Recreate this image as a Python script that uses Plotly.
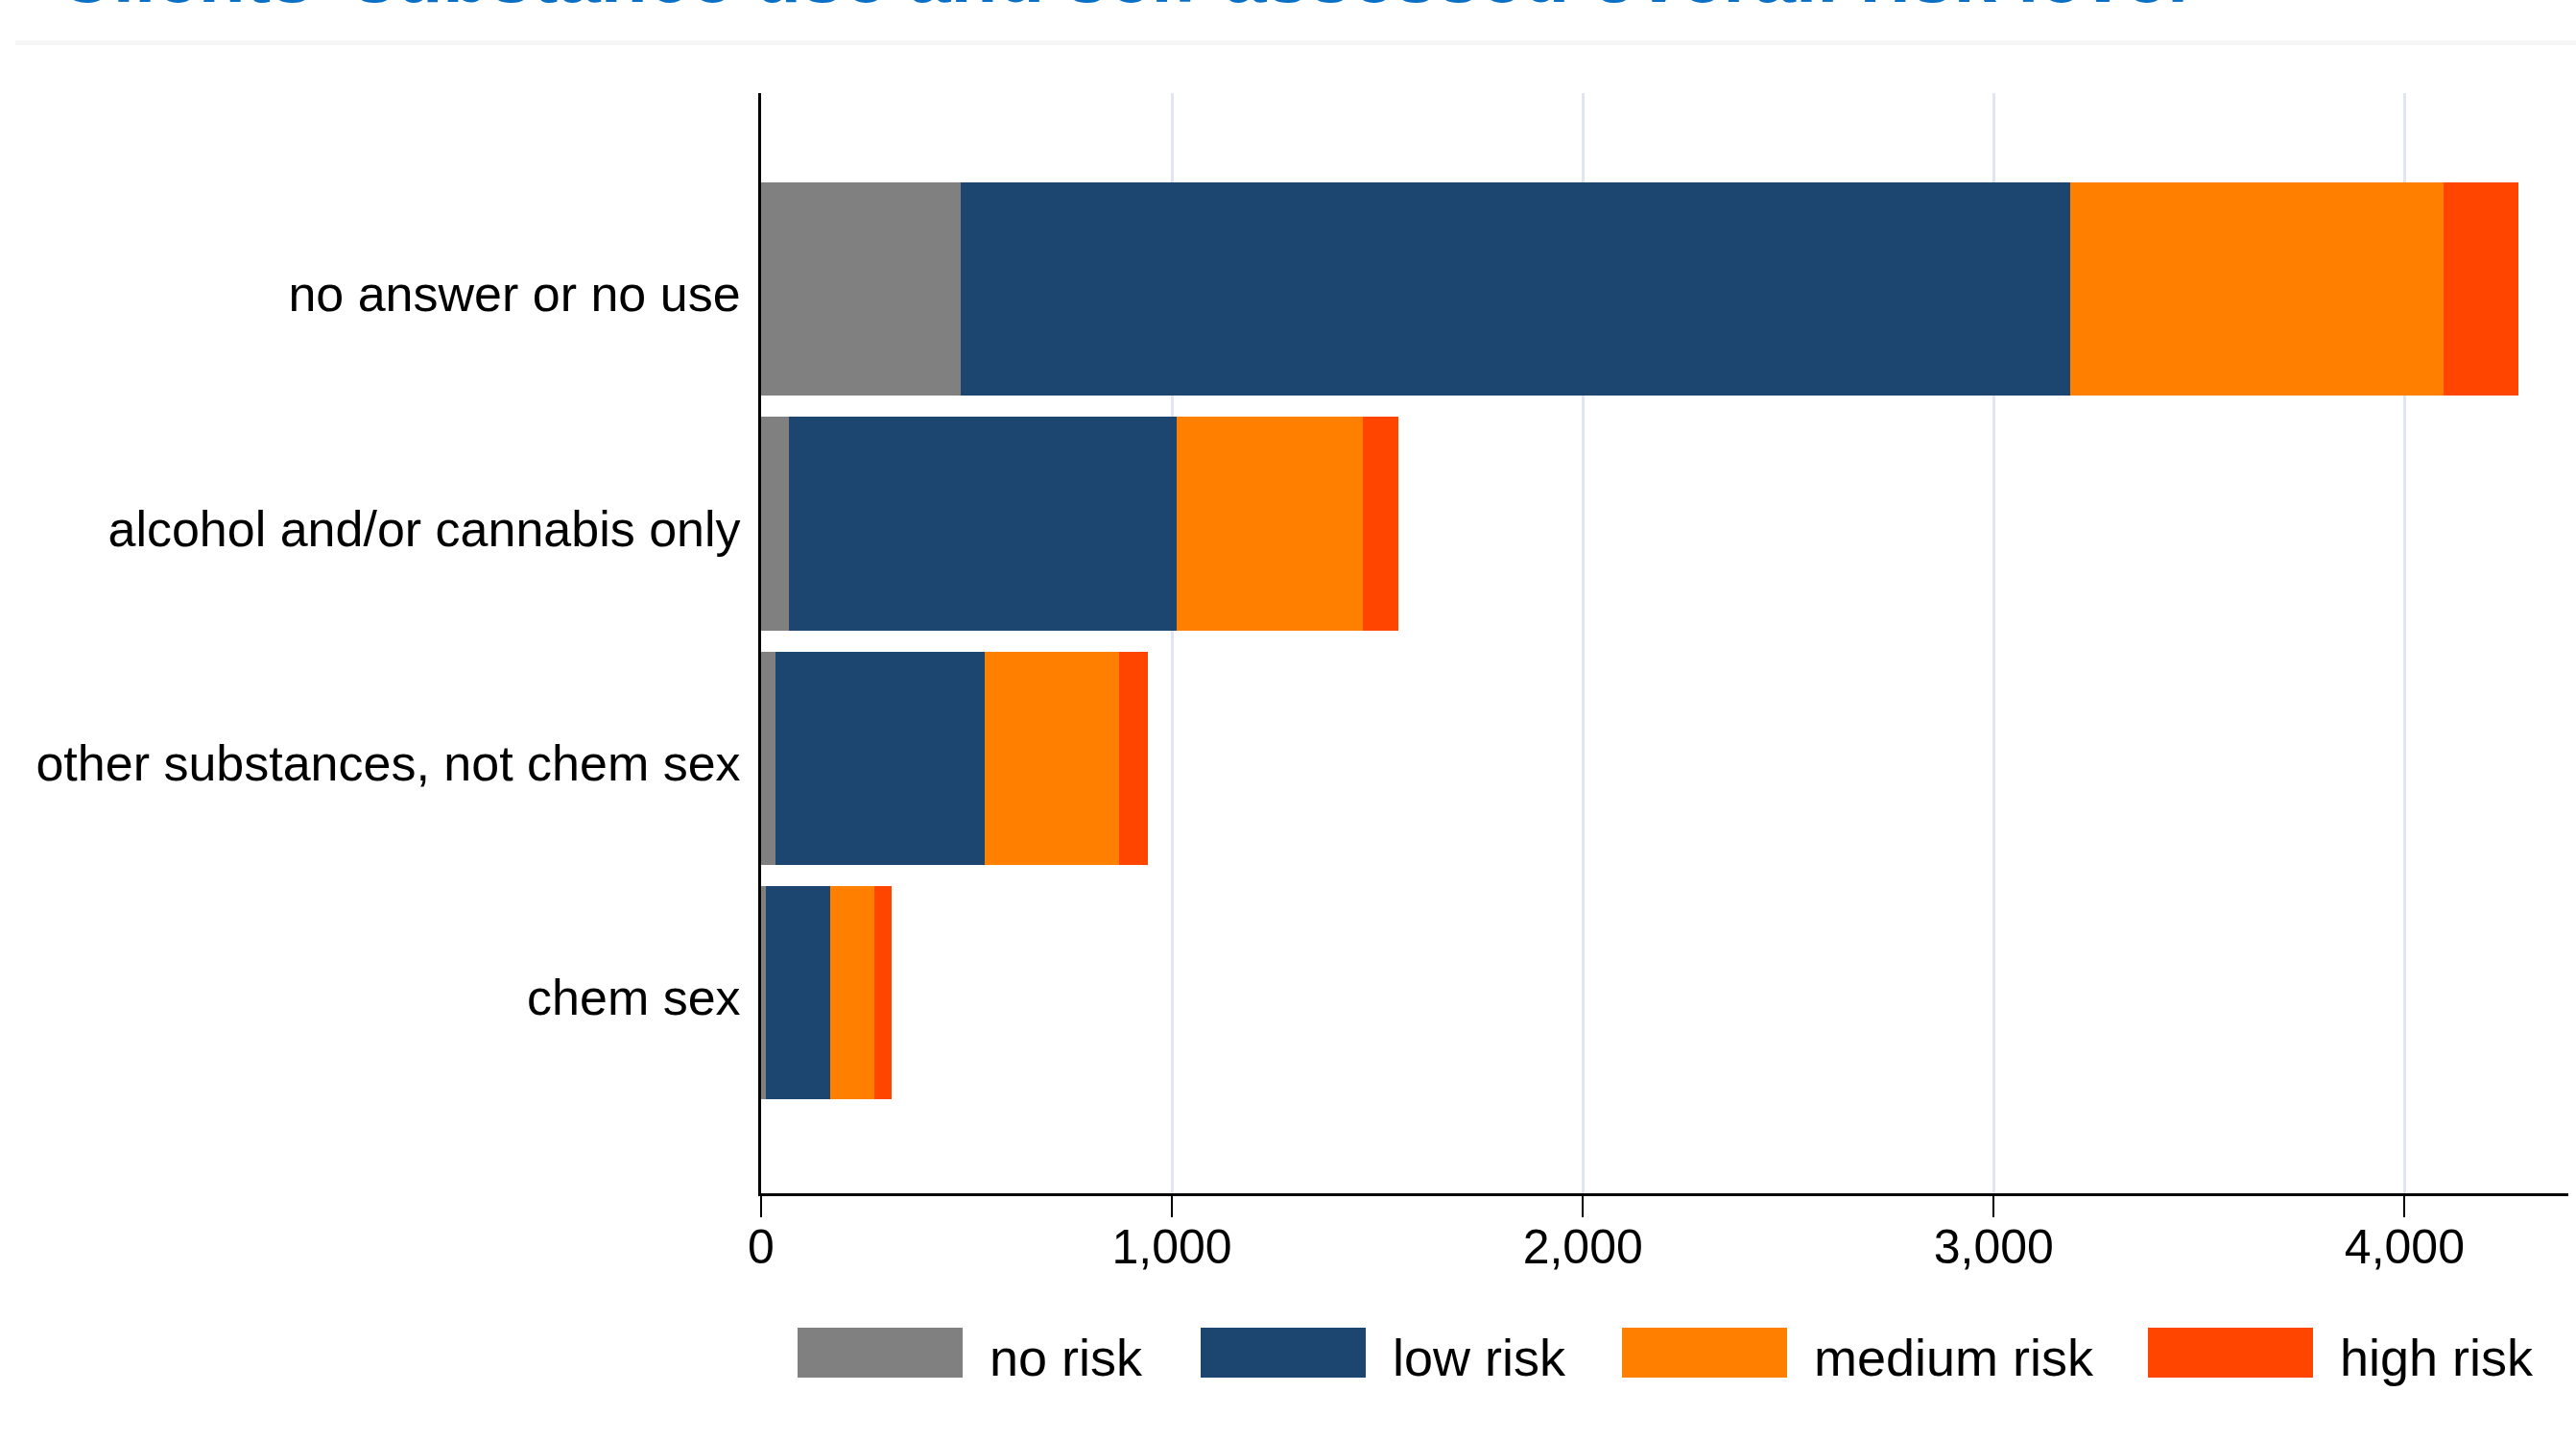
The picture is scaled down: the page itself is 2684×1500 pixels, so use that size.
import plotly.graph_objects as go

# ---- data ----
categories = ["no answer or no use", "alcohol and/or cannabis only",
              "other substances, not chem sex", "chem sex"]
series_names = ["no risk", "low risk", "medium risk", "high risk"]
no_risk = [487, 68, 34, 12]
low_risk = [2700, 944, 510, 157]
medium_risk = [907, 452, 327, 107]
high_risk = [184, 86, 70, 42]
series_values = [no_risk, low_risk, medium_risk, high_risk]
series_colors = ["#808080", "#1c466f", "#ff7f00", "#ff4500"]
x_tickvals = [0, 1000, 2000, 3000, 4000]
title_text = "Clients' substance use and self-assessed overall risk level"

# ---- layout geometry (pixels) ----
W, H = 2684, 1500
L, R, T, B = 793, 8, 97, 257
PW = W - L - R
PH = H - T - B
FONT = "Liberation Sans, Arial, Helvetica, sans-serif"


def px_x(px):
    return (px - L) / PW


def px_y(py):
    return (H - B - py) / PH


fig = go.Figure()
for name, vals, col in zip(series_names, series_values, series_colors):
    fig.add_trace(go.Bar(
        y=categories, x=vals, name=name, orientation="h",
        marker=dict(color=col, line=dict(width=0)),
        width=0.91, showlegend=False,
    ))

# custom legend (large swatches like the original)
legend_box_left = [831, 1251, 1690, 2238]
box_w, box_top, box_bot = 172, 1383, 1435
shapes = []
annotations = []
for name, col, bx in zip(series_names, series_colors, legend_box_left):
    shapes.append(dict(type="rect", xref="paper", yref="paper",
                       x0=px_x(bx), x1=px_x(bx + box_w),
                       y0=px_y(box_bot), y1=px_y(box_top),
                       fillcolor=col, line=dict(width=0), layer="above"))
    annotations.append(dict(xref="paper", yref="paper",
                            x=px_x(bx + box_w + 26), y=px_y((box_top + box_bot) / 2 + 5),
                            xanchor="left", yanchor="middle", showarrow=False,
                            text=name, font=dict(family=FONT, size=54, color="black")))

# faint band line near the top
shapes.append(dict(type="line", xref="paper", yref="paper",
                   x0=px_x(16), x1=px_x(W), y0=px_y(44.5), y1=px_y(44.5),
                   line=dict(color="#f6f6f6", width=5), layer="below"))

# title, mostly cut off by the top edge of the page (as in the original)
annotations.append(dict(xref="paper", yref="paper", x=px_x(58), y=1,
                        xanchor="left", yanchor="bottom", yshift=76,
                        showarrow=False, text="<b>" + title_text + "</b>",
                        font=dict(family=FONT, size=80, color="#0a70c6")))

fig.update_layout(
    width=W, height=H,
    margin=dict(l=L, r=R, t=T, b=B, pad=0),
    barmode="stack",
    bargap=0.09,
    plot_bgcolor="white", paper_bgcolor="white",
    font=dict(family=FONT, color="black"),
    shapes=shapes,
    annotations=annotations,
    showlegend=False,
)
fig.update_xaxes(
    range=[0, PW / 428.1 * 1000],
    tickvals=x_tickvals, tickformat=",d",
    showgrid=True, gridcolor="#e1e5ef", gridwidth=2.5,
    zeroline=False,
    showline=True, linecolor="black", linewidth=3,
    ticks="outside", ticklen=22, tickwidth=1.5, tickcolor="black",
    ticklabelstandoff=-12,
    tickfont=dict(family=FONT, size=50, color="black"),
)
fig.update_yaxes(
    type="category", categoryorder="array", categoryarray=categories,
    range=[3.855, -0.835],
    showgrid=False, zeroline=False,
    showline=True, linecolor="black", linewidth=3,
    ticks="", ticklabelstandoff=8, ticklabelshift=-5,
    tickfont=dict(family=FONT, size=52, color="black"),
)

fig.write_html("out.html")
